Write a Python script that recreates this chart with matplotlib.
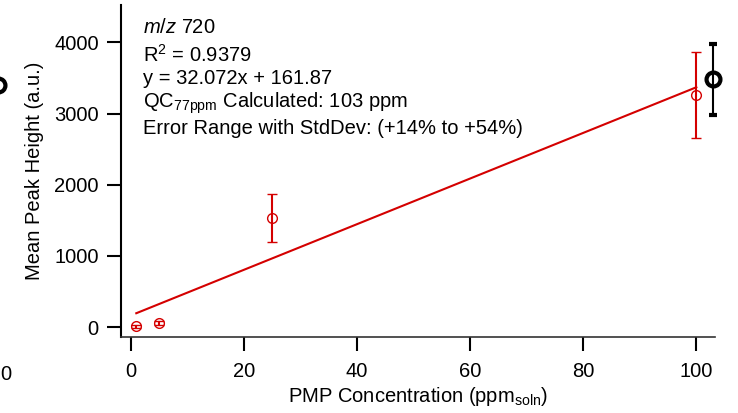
import numpy as np
import matplotlib
matplotlib.use('Agg')
import matplotlib.pyplot as plt

plt.rcParams['font.family'] = ['Liberation Sans', 'DejaVu Sans']
plt.rcParams['mathtext.fontset'] = 'custom'
plt.rcParams['mathtext.rm'] = 'Liberation Sans'
plt.rcParams['mathtext.it'] = 'Liberation Sans:italic'

# calibration standards
conc = [1, 5, 25, 100]
peak = [10, 56, 1530, 3260]
peak_sd = [25, 25, 340, 600]

# QC sample
qc_conc = [103]
qc_peak = [3480]
qc_sd = [500]

# fit
slope = 32.072
intercept = 161.87

# stray point from the neighbouring panel (cut off at the left edge)
prev_x = [-23.4]
prev_y = [3400]

red = '#d40000'
fs = 14.5

fig = plt.figure(figsize=(7.38, 4.13), dpi=100)
ax = fig.add_axes([121 / 738, 1 - 337 / 413, (715 - 121) / 738, (337 - 5) / 413])

fit_x = np.array([min(conc), max(conc)])
ax.plot(fit_x, slope * fit_x + intercept, color=red, lw=1.5)
ax.errorbar(conc, peak, yerr=peak_sd, fmt='o', mfc='none', mec=red, ecolor=red,
            ms=7, mew=1, elinewidth=1.5, capsize=3.5, capthick=1.5)
ax.errorbar(qc_conc, qc_peak, yerr=qc_sd, fmt='o', mfc='none', mec='black', ecolor='black',
            ms=10, mew=3, elinewidth=1.5, capsize=3, capthick=1.5, clip_on=False)
ax.plot(prev_x, prev_y, 'o', mfc='none', mec='black', ms=10, mew=3, clip_on=False)

ax.set_xlim(-1.7, 103.3)
ax.set_ylim(-140, 4525)
ax.set_xticks([0, 20, 40, 60, 80, 100])
ax.set_yticks([0, 1000, 2000, 3000, 4000])
ax.spines['top'].set_visible(False)
ax.spines['right'].set_visible(False)
ax.spines['left'].set_linewidth(1.5)
ax.spines['bottom'].set_linewidth(1.2)
ax.spines['bottom'].set_color('#333333')
ax.tick_params(direction='out', length=10, width=1.5, labelsize=fs)
ax.tick_params(axis='x', pad=8)
ax.tick_params(axis='y', pad=6)

ax.set_xlabel('PMP Concentration (ppm$_{\\mathregular{soln}}$)', fontsize=fs, labelpad=3)
ax.set_ylabel('Mean Peak Height (a.u.)', fontsize=fs, labelpad=7)

lines = ['$m/z$ 720',
         'R$^{\\mathregular{2}}$ = 0.9379',
         'y = 32.072x + 161.87',
         'QC$_{\\mathregular{77ppm}}$ Calculated: 103 ppm',
         'Error Range with StdDev: (+14% to +54%)']
baselines = [33, 62, 84, 108, 134]
for txt, b in zip(lines, baselines):
    fig.text(143 / 738, 1 - b / 413, txt, fontsize=fs, va='baseline', ha='left')

# tick label from the neighbouring panel, cut at the left edge
fig.text(0.5 / 738, 1 - 380 / 413, '0', fontsize=fs, ha='left', va='baseline')

fig.savefig('out.png', dpi=100)
